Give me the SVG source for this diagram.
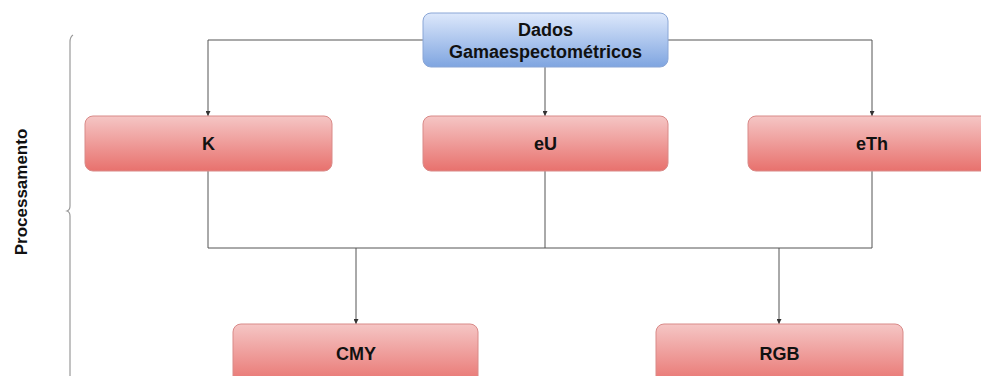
<svg xmlns="http://www.w3.org/2000/svg" width="981" height="376" viewBox="0 0 981 376">
  <style>
    .lbl { font-family: "Liberation Sans", Arial, sans-serif; font-weight: bold; font-size: 18px; fill: #111; text-anchor: middle; }
    .side { font-family: "Liberation Sans", Arial, sans-serif; font-weight: bold; font-size: 17px; fill: #111; text-anchor: middle; }
    .red { fill: url(#gRed); stroke: #d98a88; stroke-width: 1; }
    .blue { fill: url(#gBlue); stroke: #8aa6d6; stroke-width: 1; }
    .conn { fill: none; stroke: #555; stroke-width: 1; }
  </style>
  <defs>
    <linearGradient id="gRed" x1="0" y1="0" x2="0" y2="1">
      <stop offset="0" stop-color="#f5c6c5"/>
      <stop offset="1" stop-color="#e8716d"/>
    </linearGradient>
    <linearGradient id="gBlue" x1="0" y1="0" x2="0" y2="1">
      <stop offset="0" stop-color="#dde8fb"/>
      <stop offset="1" stop-color="#7fa5e0"/>
    </linearGradient>
    <marker id="arr" viewBox="0 0 10 10" refX="10" refY="5" markerWidth="5" markerHeight="5" orient="auto">
      <path d="M0,0 L10,5 L0,10 Z" fill="#333"/>
    </marker>
  </defs>

  <rect width="981" height="376" fill="#fff"/>

  <!-- side brace and title -->
  <g id="lane">
    <path d="M73,35 Q70,37 70,42 L70,206 Q70,210 67,211 Q70,212 70,216 L70,376" fill="none" stroke="#9a9a9a" stroke-width="1.2"/>
    <text class="side" transform="translate(27,192) rotate(-90)">Processamento</text>
  </g>

  <!-- connectors -->
  <g id="connectors">
    <path class="conn" d="M423,40 H208 V116" marker-end="url(#arr)"/>
    <path class="conn" d="M668,40 H872 V116" marker-end="url(#arr)"/>
    <path class="conn" d="M545,67 V116" marker-end="url(#arr)"/>
    <path class="conn" d="M208,171 V248 H872 V171"/>
    <path class="conn" d="M545,171 V248"/>
    <path class="conn" d="M356,248 V324" marker-end="url(#arr)"/>
    <path class="conn" d="M779,248 V324" marker-end="url(#arr)"/>
  </g>

  <g id="dados">
    <rect class="blue" x="423" y="13" width="245" height="54" rx="8"/>
    <text class="lbl" x="545.5" y="36">Dados</text>
    <text class="lbl" x="545.5" y="58">Gamaespectométricos</text>
  </g>

  <g id="k">
    <rect class="red" x="85" y="116" width="247" height="55" rx="8"/>
    <text class="lbl" x="208.5" y="150">K</text>
  </g>

  <g id="eu">
    <rect class="red" x="423" y="116" width="245" height="55" rx="8"/>
    <text class="lbl" x="545.5" y="150">eU</text>
  </g>

  <g id="eth">
    <rect class="red" x="748" y="116" width="248" height="55" rx="8"/>
    <text class="lbl" x="872" y="150">eTh</text>
  </g>

  <g id="cmy">
    <rect class="red" x="233" y="324" width="245" height="62" rx="8"/>
    <text class="lbl" x="356" y="360">CMY</text>
  </g>

  <g id="rgb">
    <rect class="red" x="656" y="324" width="247" height="62" rx="8"/>
    <text class="lbl" x="779.5" y="360">RGB</text>
  </g>
</svg>
